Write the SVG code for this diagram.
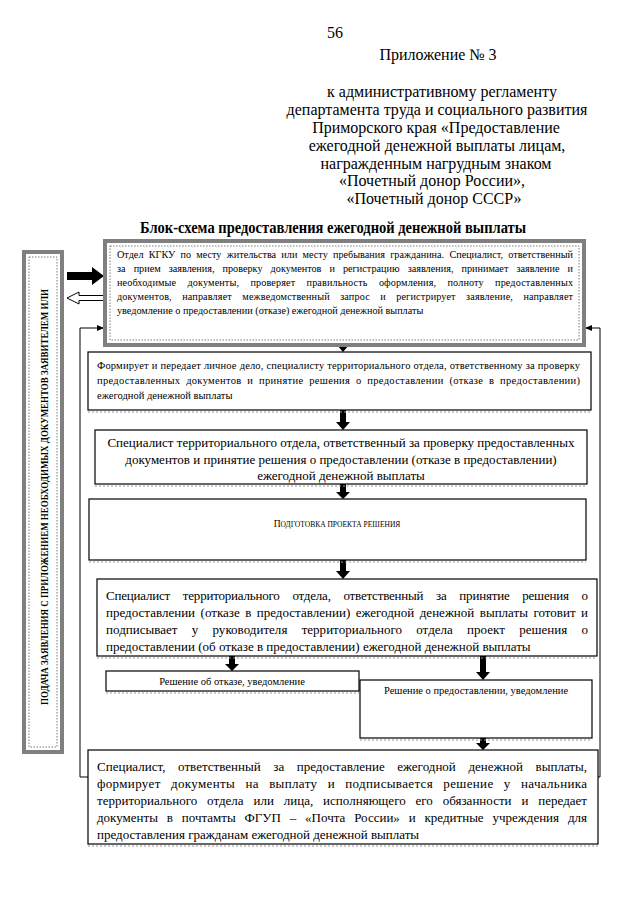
<svg xmlns="http://www.w3.org/2000/svg" width="640" height="905" viewBox="0 0 640 905">
<style>
text{font-family:"Liberation Serif","Times New Roman",serif;fill:#000}
.hdr{font-size:16px;text-anchor:middle}
.s10{font-size:10.5px}
.s10b{font-size:10.2px}
.s13{font-size:13px}
.c{text-anchor:middle}
.box{fill:#fff;stroke:#000;stroke-width:1.2}
.gbox{fill:#fff;stroke:#808080;stroke-width:4}
.inner{fill:none;stroke:#444;stroke-width:0.7;stroke-dasharray:1.5,1.5}
.shadow{fill:none;stroke:#999;stroke-width:1;stroke-dasharray:2,2}
.arr{fill:#000}
.line{fill:none;stroke:#000;stroke-width:1}
</style>
<defs>
<marker id="ah" markerWidth="8" markerHeight="8" refX="7" refY="4" orient="auto" markerUnits="userSpaceOnUse">
<path d="M0,1 L7,4 L0,7 Z" fill="#000"/>
</marker>
</defs>

<g id="header">
<text x="335" y="38" class="hdr" font-size="15">56</text>
<text x="438" y="60" class="hdr">Приложение № 3</text>
<text x="442" y="97" class="hdr">к административному регламенту</text>
<text x="437" y="115" class="hdr">департамента труда и социального развития</text>
<text x="436" y="133" class="hdr">Приморского края «Предоставление</text>
<text x="437" y="151" class="hdr">ежегодной денежной выплаты лицам,</text>
<text x="436" y="169" class="hdr">награжденным нагрудным знаком</text>
<text x="432" y="186" class="hdr">«Почетный донор России»,</text>
<text x="434" y="204" class="hdr">«Почетный донор СССР»</text>
<text x="333" y="233" class="hdr" font-size="15" font-weight="bold" textLength="386" lengthAdjust="spacingAndGlyphs">Блок-схема предоставления ежегодной денежной выплаты</text>
</g>

<g id="connectors">
<polygon class="arr" points="340,338 346,338 346,345 349,345 343,352 337,345 340,345"/>
<polygon class="arr" points="340,410 346,410 346,422 350,422 343,430 336,422 340,422"/>
<polygon class="arr" points="340,484 346,484 346,492 350,492 343,499 336,492 340,492"/>
<polygon class="arr" points="340,560 346,560 346,571 350,571 343,579 336,571 340,571"/>
<polygon class="arr" points="229,656 235,656 235,664 239,664 232,671 225,664 229,664"/>
<polygon class="arr" points="480,656 486,656 486,672 490,672 483,680 476,672 480,672"/>
<polygon class="arr" points="480,738 486,738 486,743 490,743 483,750 476,743 480,743"/>
<polygon class="arr" points="67,272 92,272 92,267 104,276 92,285 92,280 67,280"/>
<polygon points="104,295.5 79,295.5 79,292 67,298 79,304 79,300.5 104,300.5" fill="#fff" stroke="#000" stroke-width="1"/>
<path class="line" d="M88,777 H80 V328 H104" marker-end="url(#ah)"/>
<path class="line" d="M598,777 H600 V328 H585" marker-end="url(#ah)"/>
</g>

<g id="applicant">
<rect class="gbox" x="24" y="252" width="38" height="500"/>
<rect class="inner" x="29" y="257" width="28" height="490"/>
<text transform="translate(48,497) rotate(-90)" class="c" font-size="9.5" font-weight="bold" textLength="416" lengthAdjust="spacingAndGlyphs">ПОДАЧА ЗАЯВЛЕНИЯ С ПРИЛОЖЕНИЕМ НЕОБХОДИМЫХ ДОКУМЕНТОВ ЗАЯВИТЕЛЕМ ИЛИ</text>
</g>

<g id="kgku">
<rect class="gbox" x="105" y="241" width="479" height="104"/>
<rect class="inner" x="110" y="246" width="469" height="94"/>
<text class="s10b" x="117" y="258" word-spacing="2.7" textLength="456" lengthAdjust="spacing">Отдел КГКУ по месту жительства или месту пребывания гражданина. Специалист, ответственный</text>
<text class="s10b" x="117" y="272" word-spacing="5.5" textLength="456" lengthAdjust="spacing">за прием заявления, проверку документов и регистрацию заявления, принимает заявление и</text>
<text class="s10b" x="117" y="286" word-spacing="8.7" textLength="456" lengthAdjust="spacing">необходимые документы, проверяет правильность оформления, полноту предоставленных</text>
<text class="s10b" x="117" y="300" word-spacing="7.7" textLength="456" lengthAdjust="spacing">документов, направляет межведомственный запрос и регистрирует заявление, направляет</text>
<text class="s10b" x="117" y="314">уведомление о предоставлении (отказе) ежегодной денежной выплаты</text>
</g>

<g id="forms">
<rect class="box" x="88" y="352" width="503" height="58"/>
<line class="shadow" x1="88" y1="412" x2="591" y2="412"/>
<text class="s10" x="97" y="369" word-spacing="0.2" textLength="483" lengthAdjust="spacing">Формирует и передает личное дело, специалисту территориального отдела, ответственному за проверку</text>
<text class="s10" x="97" y="384" word-spacing="2.8" textLength="483" lengthAdjust="spacing">предоставленных документов и принятие решения о предоставлении (отказе в предоставлении)</text>
<text class="s10" x="97" y="399">ежегодной денежной выплаты</text>
</g>

<g id="specialist-check">
<rect class="box" x="95" y="430" width="492" height="54"/>
<line class="shadow" x1="95" y1="486" x2="587" y2="486"/>
<text class="s13 c" x="341" y="447">Специалист территориального отдела, ответственный за проверку предоставленных</text>
<text class="s13 c" x="341" y="464">документов и принятие решения о предоставлении (отказе в предоставлении)</text>
<text class="s13 c" x="341" y="480">ежегодной денежной выплаты</text>
</g>

<g id="draft">
<rect class="box" x="89" y="499" width="497" height="61"/>
<line class="shadow" x1="89" y1="562" x2="586" y2="562"/>
<text class="c" x="337" y="527" font-size="7.5"><tspan font-size="9.5">П</tspan>ОДГОТОВКА ПРОЕКТА РЕШЕНИЯ</text>
</g>

<g id="specialist-decision">
<rect class="box" x="97" y="579" width="500" height="77"/>
<line class="shadow" x1="97" y1="658" x2="597" y2="658"/>
<text class="s13" x="106" y="600" word-spacing="9.7" textLength="482" lengthAdjust="spacing">Специалист территориального отдела, ответственный за принятие решения о</text>
<text class="s13" x="106" y="617" word-spacing="2.2" textLength="482" lengthAdjust="spacing">предоставлении (отказе в предоставлении) ежегодной денежной выплаты готовит и</text>
<text class="s13" x="106" y="634" word-spacing="11" textLength="482" lengthAdjust="spacing">подписывает у руководителя территориального отдела проект решения о</text>
<text class="s13" x="106" y="651">предоставлении (об отказе в предоставлении) ежегодной денежной выплаты</text>
</g>

<g id="refusal">
<rect class="box" x="106" y="671" width="253" height="20"/>
<line class="shadow" x1="106" y1="693" x2="359" y2="693"/>
<text class="s10 c" x="232" y="685">Решение об отказе, уведомление</text>
</g>

<g id="grant">
<rect class="box" x="360" y="680" width="232" height="58"/>
<line class="shadow" x1="360" y1="740" x2="592" y2="740"/>
<text class="s10 c" x="476" y="694">Решение о предоставлении, уведомление</text>
</g>

<g id="payment">
<rect class="box" x="88" y="750" width="510" height="94"/>
<line class="shadow" x1="88" y1="846" x2="598" y2="846"/>
<text class="s13" x="97" y="771" word-spacing="9.3" textLength="490" lengthAdjust="spacing">Специалист, ответственный за предоставление ежегодной денежной выплаты,</text>
<text class="s13" x="97" y="788" word-spacing="6.7" textLength="490" lengthAdjust="spacing">формирует документы на выплату и подписывается решение у начальника</text>
<text class="s13" x="97" y="805" word-spacing="6.6" textLength="490" lengthAdjust="spacing">территориального отдела или лица, исполняющего его обязанности и передает</text>
<text class="s13" x="97" y="822" word-spacing="5.6" textLength="490" lengthAdjust="spacing">документы в почтамты ФГУП – «Почта России» и кредитные учреждения для</text>
<text class="s13" x="97" y="839">предоставления гражданам ежегодной  денежной выплаты</text>
</g>
</svg>
